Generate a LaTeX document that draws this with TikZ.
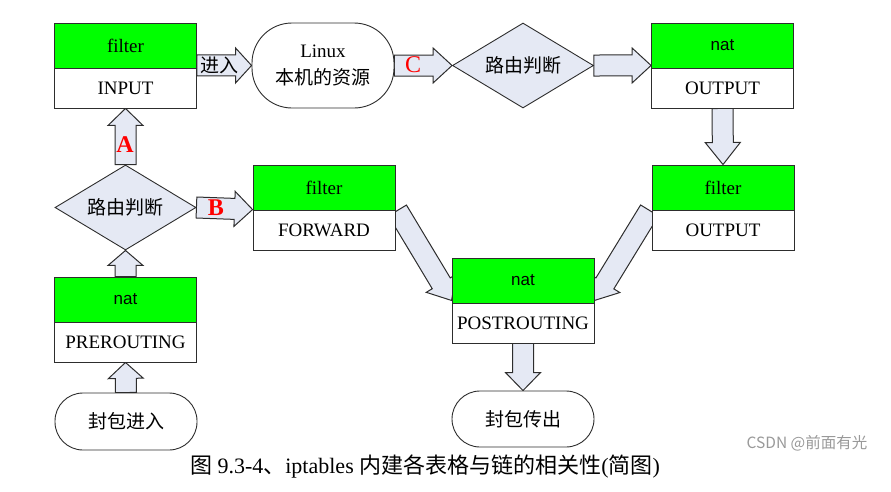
\documentclass[tikz,border=0pt]{standalone}
\usepackage{fontspec}
\setmainfont{Liberation Serif}
\setsansfont{Liberation Sans}
\newfontfamily\cjk{Noto Sans CJK SC}
\usetikzlibrary{calc}
\usetikzlibrary{shapes.geometric}
\usetikzlibrary{backgrounds}
\definecolor{tblgreen}{RGB}{0,255,0}
\definecolor{pipe}{RGB}{229,233,244}
\definecolor{lineGrey}{RGB}{45,45,45}

% block arrow: from, to, head length
\newcommand{\fatarrow}[3]{%
 \coordinate (fa-s) at (#1);
 \coordinate (fa-e) at (#2);
 \coordinate (fa-h) at ($(fa-e)!#3!(fa-s)$);
 \draw[pipeline] ($(fa-s)!10.5pt!90:(fa-e)$) -- ($(fa-h)!10.5pt!90:(fa-e)$)
   -- ($(fa-h)!17.5pt!90:(fa-e)$) -- (fa-e) -- ($(fa-h)!17.5pt!-90:(fa-e)$)
   -- ($(fa-h)!10.5pt!-90:(fa-e)$) -- ($(fa-s)!10.5pt!-90:(fa-e)$) -- cycle;
}

\begin{document}
\begin{tikzpicture}[x=1pt,y=-1pt,font=\fontsize{19}{21}\selectfont,
  tbl/.style={draw=lineGrey, line width=.9pt, minimum width=142pt, inner sep=0pt},
  tblT/.style={tbl, fill=tblgreen, minimum height=45pt},
  tblC/.style={tbl, fill=white, minimum height=40pt},
  natfont/.style={font=\sffamily\fontsize{17}{18}\selectfont},
  capsule/.style={draw=lineGrey, line width=.9pt, fill=white, rounded corners=#1, minimum width=142pt, inner sep=0pt},
  router/.style={diamond, draw=lineGrey, line width=.9pt, fill=pipe, aspect=1.65, minimum width=141pt, minimum height=85pt, inner sep=0pt},
  pipeline/.style={draw=lineGrey, line width=1pt, fill=pipe, line join=miter},
  tag/.style={text=red, font=\fontsize{24}{24}\selectfont}
]
\useasboundingbox (0,0) rectangle (891,491);

% tables and chains
\node[tblT] (inputT) at (125.5,45.5) {filter};
\node[tblC] (inputC) at (125.5,88) {INPUT};
\node[tblT, natfont] (outnatT) at (722.5,45.5) {nat};
\node[tblC] (outnatC) at (722.5,88) {OUTPUT};
\node[tblT] (fwdT) at (324,187.5) {filter};
\node[tblC] (fwdC) at (324,230) {FORWARD};
\node[tblT] (outfiltT) at (723,187.5) {filter};
\node[tblC] (outfiltC) at (723,230) {OUTPUT};
\node[tblT, natfont] (postT) at (523,280.5) {nat};
\node[tblC] (postC) at (523,323) {POSTROUTING};
\node[tblT, natfont] (preT) at (125.5,299.5) {nat};
\node[tblC] (preC) at (125.5,342) {PREROUTING};

% decisions and end points
\node[capsule=40pt, minimum height=85pt, align=center] (linux) at (323,65.5) {Linux\\[6pt]{\cjk 本机的资源}};
\node[router] (route1) at (523,65.5) {\cjk 路由判断};
\node[router] (route2) at (125.5,207.5) {\cjk 路由判断};
\node[capsule=28pt, minimum height=57pt] (pktIn) at (126,421.5) {\cjk 封包进入};
\node[capsule=28pt, minimum height=56pt] (pktOut) at (523,419) {\cjk 封包传出};

% flow
\begin{scope}[on background layer]
\fatarrow{route2.north}{inputC.south}{17pt}
\fatarrow{[yshift=3pt]inputT.south east}{linux.west}{16pt}
\fatarrow{linux.east}{route1.west}{19pt}
\fatarrow{route1.east}{[yshift=3pt]outnatT.south west}{19pt}
\fatarrow{outnatC.south}{outfiltT.north}{22pt}
\fatarrow{route2.east}{fwdC.north west}{18pt}
\fatarrow{preT.north}{route2.south}{15pt}
\fatarrow{pktIn.north}{preC.south}{16pt}
\fatarrow{[xshift=2pt]fwdT.south east}{[yshift=3pt]postT.south west}{20pt}
\fatarrow{[xshift=-2pt]outfiltT.south west}{[yshift=3pt]postT.south east}{20pt}
\fatarrow{postC.south}{pktOut.north}{18pt}
\end{scope}

\node[tag, font=\fontsize{24}{24}\selectfont\bfseries] (tagA) at (125,145) {A};
\node[tag, font=\fontsize{24}{24}\selectfont\bfseries] (tagB) at (216,208) {B};
\node[tag] (tagC) at (413,65) {C};
\node (enter) at (219,65) {\cjk 进入};

\node[font=\fontsize{22}{22}\selectfont] (caption) at (425,467) {{\cjk 图} 9.3-4{\cjk 、}iptables {\cjk 内建各表格与链的相关性}({\cjk 简图})};
\node[text=black!40, font=\cjk\fontsize{15.5}{16}\selectfont] (wmark) at (807,443) {CSDN @前面有光};
\end{tikzpicture}
\end{document}
